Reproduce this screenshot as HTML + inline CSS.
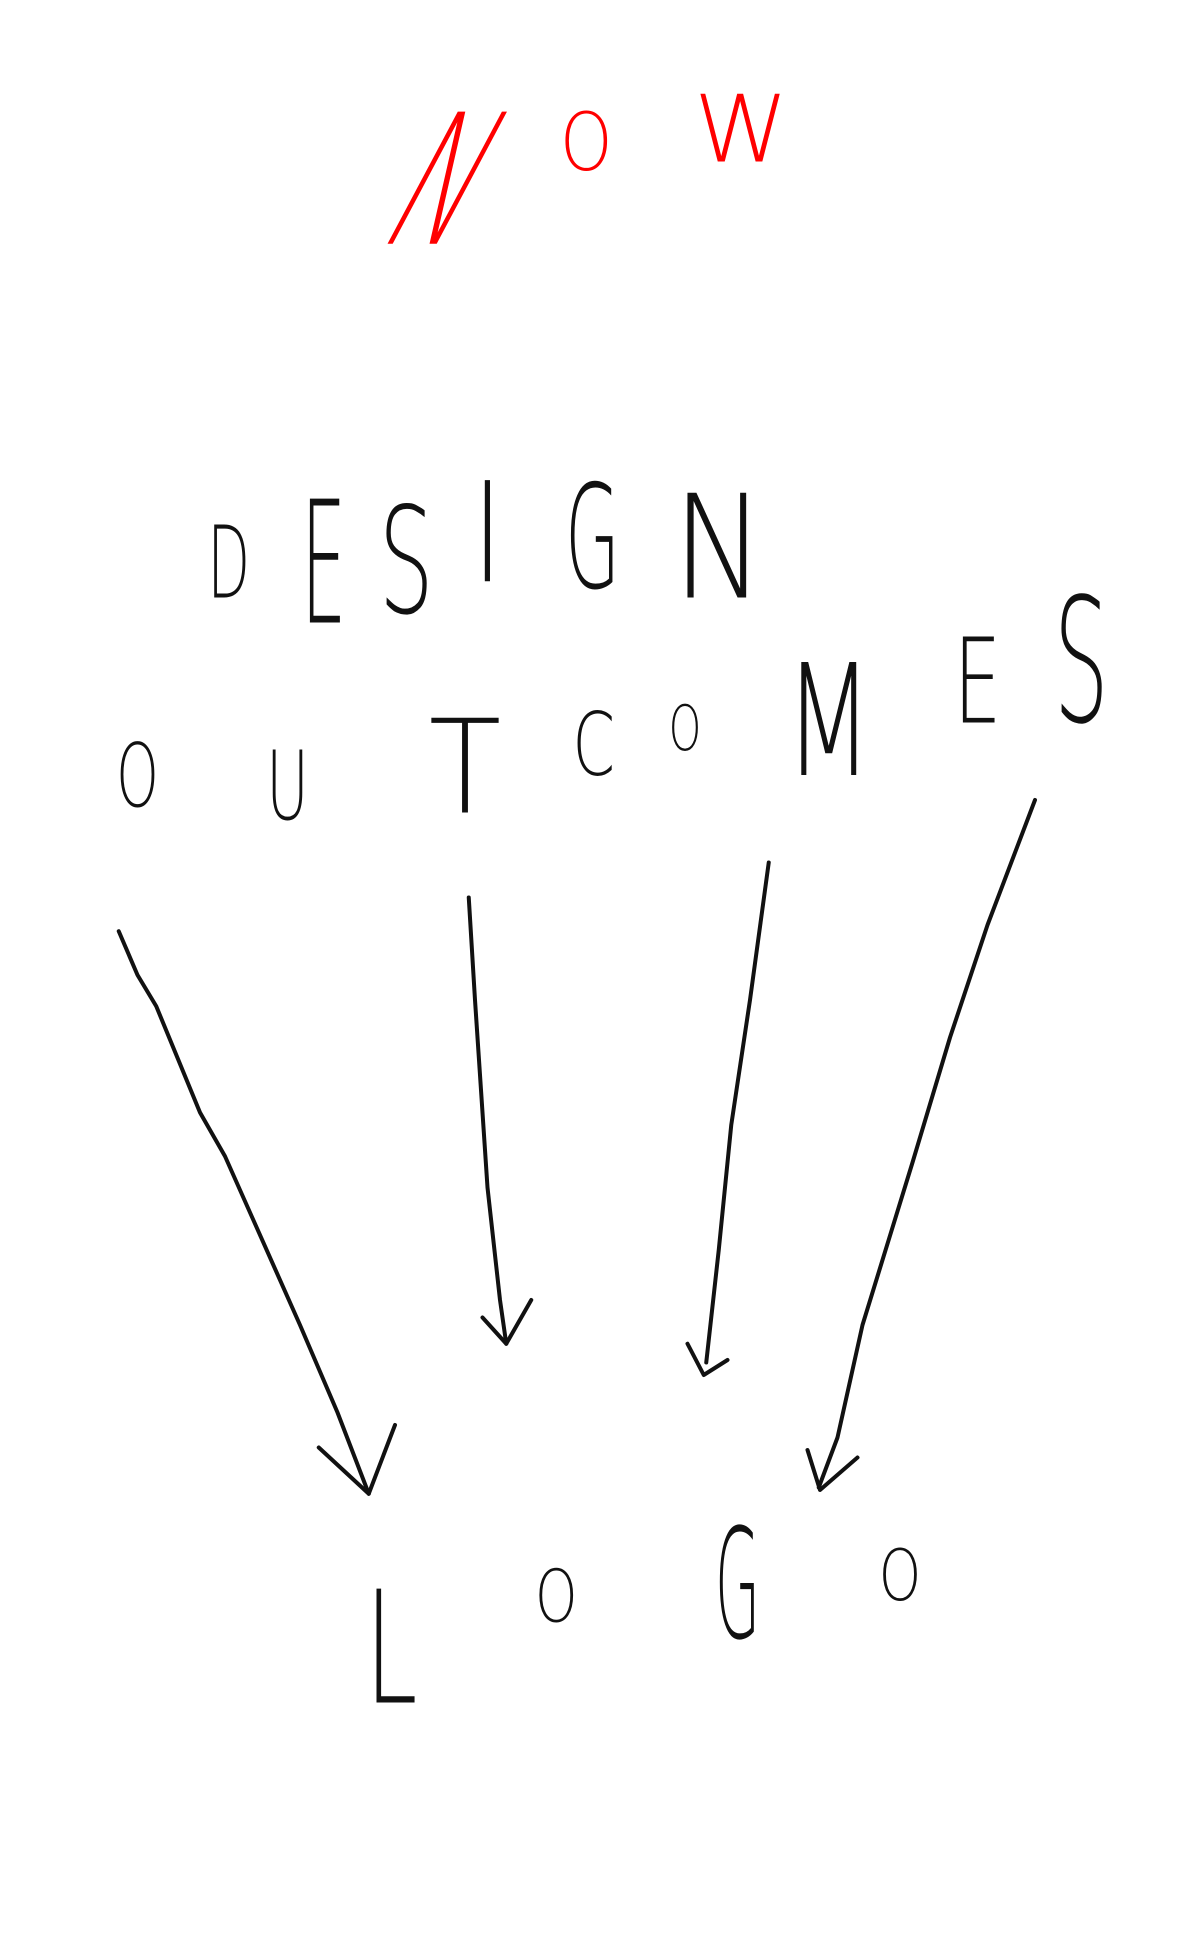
<!DOCTYPE html>
<html><head><meta charset="utf-8"><style>
html,body{margin:0;padding:0;background:#fff;}
svg{display:block}
text{font-family:"DejaVu Sans","Liberation Sans",sans-serif;font-weight:200;}
</style></head><body>
<svg width="1200" height="1942" viewBox="0 0 960 1553.6" xmlns="http://www.w3.org/2000/svg">
<rect width="960" height="1553.6" fill="#fff"/>
<g fill="#f00">
<g transform="translate(300,195) skewX(-28)"><text x="0" y="0" font-size="145" textLength="62" lengthAdjust="spacingAndGlyphs">N</text></g>
<text x="448" y="136" font-size="64" textLength="42" lengthAdjust="spacingAndGlyphs">O</text>
<text x="555" y="129" font-size="74" textLength="76" lengthAdjust="spacingAndGlyphs">W</text>
</g>
<g fill="#111">
<text x="166" y="478" font-size="80" textLength="34" lengthAdjust="spacingAndGlyphs">D</text>
<text x="241" y="498" font-size="136" textLength="36" lengthAdjust="spacingAndGlyphs">E</text>
<text x="303" y="490" font-size="118" textLength="44" lengthAdjust="spacingAndGlyphs">S</text>
<text x="378" y="465" font-size="111" textLength="24" lengthAdjust="spacingAndGlyphs">I</text>
<text x="452" y="470" font-size="115" textLength="44" lengthAdjust="spacingAndGlyphs">G</text>
<text x="538" y="478" font-size="115" textLength="74" lengthAdjust="spacingAndGlyphs">N</text>

<text x="93" y="645" font-size="70" textLength="34" lengthAdjust="spacingAndGlyphs">O</text>
<text x="213" y="655" font-size="76" textLength="34" lengthAdjust="spacingAndGlyphs">U</text>
<text x="343" y="650" font-size="104" textLength="58" lengthAdjust="spacingAndGlyphs">T</text>
<text x="458" y="620" font-size="70" textLength="34" lengthAdjust="spacingAndGlyphs">C</text>
<text x="535" y="600" font-size="50" textLength="26" lengthAdjust="spacingAndGlyphs">O</text>
<text x="628" y="620" font-size="124" textLength="70" lengthAdjust="spacingAndGlyphs">M</text>
<text x="763" y="578" font-size="94" textLength="38" lengthAdjust="spacingAndGlyphs">E</text>
<text x="843" y="577" font-size="138" textLength="44" lengthAdjust="spacingAndGlyphs">S</text>

<text x="292" y="1362" font-size="125" textLength="42" lengthAdjust="spacingAndGlyphs">L</text>
<text x="428" y="1297" font-size="58" textLength="34" lengthAdjust="spacingAndGlyphs">O</text>
<text x="572" y="1310" font-size="122" textLength="36" lengthAdjust="spacingAndGlyphs">G</text>
<text x="703" y="1280" font-size="56" textLength="34" lengthAdjust="spacingAndGlyphs">O</text>
</g>
<g fill="none" stroke="#111" stroke-width="3.2" stroke-linecap="round" stroke-linejoin="round">
<path d="M95,745 L110,780 L125,805 L160,890 L180,925 L240,1060 L270,1130 L295,1195"/>
<path d="M255,1158 L295,1195 L316,1140"/>
<path d="M375,718 L380,800 L390,950 L400,1040 L405,1075"/>
<path d="M386,1054 L405,1075 L425,1040"/>
<path d="M615,690 L600,800 L585,900 L575,1000 L565,1090"/>
<path d="M550,1075 L563,1100 L582,1088"/>
<path d="M828,640 L790,740 L760,830 L730,930 L690,1060 L670,1150 L655,1190"/>
<path d="M646,1160 L656,1192 L686,1166"/>
</g>
</svg>
</body></html>
